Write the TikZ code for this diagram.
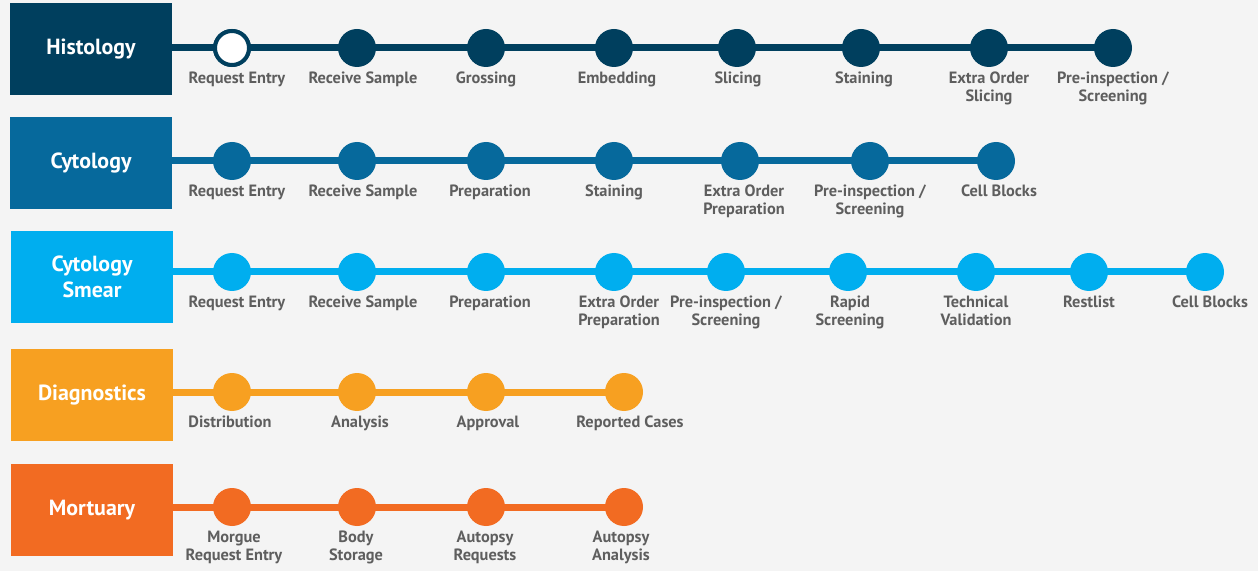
\documentclass[tikz,border=0pt]{standalone}
\usepackage{fontspec}
\setmainfont{PT Sans}
\definecolor{bg}{HTML}{F4F4F4}
\definecolor{histc}{HTML}{003F5E}
\definecolor{cytc}{HTML}{06699C}
\definecolor{smearc}{HTML}{00AEEF}
\definecolor{diagc}{HTML}{F7A021}
\definecolor{mortc}{HTML}{F26B22}
\definecolor{labc}{HTML}{5E5E5E}
\begin{document}
\begin{tikzpicture}[x=1bp,y=-1bp,
  catbox/.style={fill=#1, draw=none, minimum width=162bp, minimum height=92bp, inner sep=0, text=white, font=\bfseries\fontsize{22}{26}\selectfont, align=center},
  track/.style={draw=#1, line width=7bp},
  dot/.style={circle, fill=#1, draw=none, minimum size=38bp, inner sep=0},
  lbl/.style={anchor=north, text=labc, font=\bfseries\fontsize{16.4}{18}\selectfont, align=center, inner sep=0}]
\useasboundingbox[fill=bg] (0,0) rectangle (1258,571);

% Histology
\node[catbox=histc] (hist) at (91,49) {Histology};
\foreach \cx/\lx/\t [count=\i] in {232/237/{Request Entry},357/363/{Receive Sample},486/486/{Grossing},614/617/{Embedding},737/738/{Slicing},861/864/{Staining},989/989/{Extra Order\\Slicing},1113/1113/{Pre-inspection /\\Screening}}
  {\coordinate (hp\i) at (\cx,48);}
\draw[track=histc] (hist.east |- hp1) -- (hp8);
\foreach \cx/\lx/\t [count=\i] in {232/237/{Request Entry},357/363/{Receive Sample},486/486/{Grossing},614/617/{Embedding},737/738/{Slicing},861/864/{Staining},989/989/{Extra Order\\Slicing},1113/1113/{Pre-inspection /\\Screening}}
  {\node[dot=histc] (h\i) at (\cx,48) {};
   \node[lbl] (hl\i) at (\lx,72) {\t};}
\node[circle, fill=white, draw=histc, line width=4bp, minimum size=34bp, inner sep=0] (h1w) at (h1) {};

% Cytology
\node[catbox=cytc] (cyt) at (91,163) {Cytology};
\foreach \cx/\lx/\t [count=\i] in {232/237/{Request Entry},357/363/{Receive Sample},486/490/{Preparation},614/614/{Staining},740/744/{Extra Order\\Preparation},870/870/{Pre-inspection /\\Screening},996/999/{Cell Blocks}}
  {\coordinate (cp\i) at (\cx,161);}
\draw[track=cytc] (cyt.east |- cp1) -- (cp7);
\foreach \cx/\lx/\t [count=\i] in {232/237/{Request Entry},357/363/{Receive Sample},486/490/{Preparation},614/614/{Staining},740/744/{Extra Order\\Preparation},870/870/{Pre-inspection /\\Screening},996/999/{Cell Blocks}}
  {\node[dot=cytc] (c\i) at (\cx,161) {};
   \node[lbl] (cl\i) at (\lx,185) {\t};}

% Cytology Smear
\node[catbox=smearc] (sm) at (92,277) {Cytology\\Smear};
\foreach \cx/\lx/\t [count=\i] in {232/237/{Request Entry},357/363/{Receive Sample},486/490/{Preparation},614/619/{Extra Order\\Preparation},726/726/{Pre-inspection /\\Screening},848/850/{Rapid\\Screening},976/976/{Technical\\Validation},1089/1089/{Restlist},1205/1210/{Cell Blocks}}
  {\coordinate (sp\i) at (\cx,272);}
\draw[track=smearc] (sm.east |- sp1) -- (sp9);
\foreach \cx/\lx/\t [count=\i] in {232/237/{Request Entry},357/363/{Receive Sample},486/490/{Preparation},614/619/{Extra Order\\Preparation},726/726/{Pre-inspection /\\Screening},848/850/{Rapid\\Screening},976/976/{Technical\\Validation},1089/1089/{Restlist},1205/1210/{Cell Blocks}}
  {\node[dot=smearc] (s\i) at (\cx,272) {};
   \node[lbl] (sl\i) at (\lx,296) {\t};}

% Diagnostics
\node[catbox=diagc] (dia) at (92,395) {Diagnostics};
\foreach \cx/\lx/\t [count=\i] in {232/230/{Distribution},357/360/{Analysis},486/488/{Approval},624/630/{Reported Cases}}
  {\coordinate (dp\i) at (\cx,392);}
\draw[track=diagc] (dia.east |- dp1) -- (dp4);
\foreach \cx/\lx/\t [count=\i] in {232/230/{Distribution},357/360/{Analysis},486/488/{Approval},624/630/{Reported Cases}}
  {\node[dot=diagc] (d\i) at (\cx,392) {};
   \node[lbl] (dl\i) at (\lx,416) {\t};}

% Mortuary
\node[catbox=mortc] (mor) at (92,510) {Mortuary};
\foreach \cx/\lx/\t [count=\i] in {232/234/{Morgue\\Request Entry},357/356/{Body\\Storage},486/485/{Autopsy\\Requests},624/621/{Autopsy\\Analysis}}
  {\coordinate (mp\i) at (\cx,507);}
\draw[track=mortc] (mor.east |- mp1) -- (mp4);
\foreach \cx/\lx/\t [count=\i] in {232/234/{Morgue\\Request Entry},357/356/{Body\\Storage},486/485/{Autopsy\\Requests},624/621/{Autopsy\\Analysis}}
  {\node[dot=mortc] (m\i) at (\cx,507) {};
   \node[lbl] (ml\i) at (\lx,531) {\t};}
\end{tikzpicture}
\end{document}
